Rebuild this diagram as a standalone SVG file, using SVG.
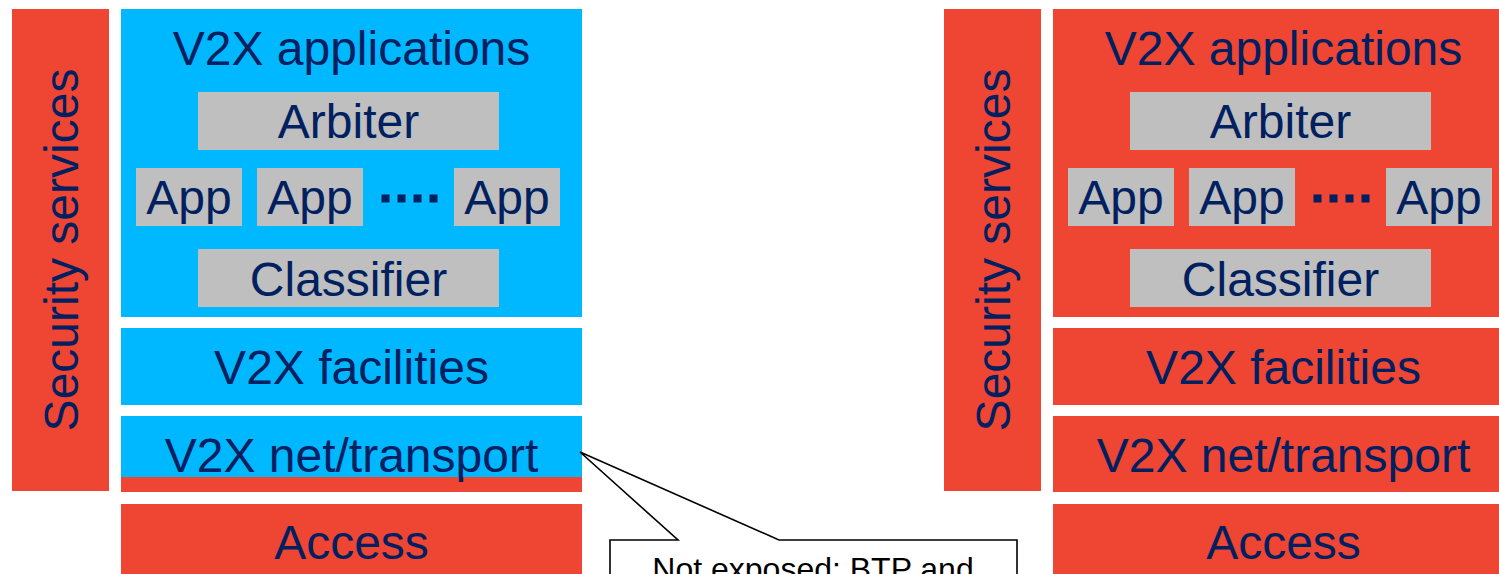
<svg xmlns="http://www.w3.org/2000/svg" width="1499" height="574" viewBox="0 0 1499 574">
<defs>
<style>
.red{fill:#EF4533;}
.blue{fill:#00B8FF;}
.grey{fill:#BFBFBF;}
.t{font-family:"Liberation Sans",Arial,sans-serif;font-size:48px;fill:#002060;text-anchor:middle;}
.dot{fill:#002060;}
.callout{fill:#FFFFFF;stroke:#000000;stroke-width:1.6;stroke-linejoin:miter;}
.ct{font-family:"Liberation Sans",Arial,sans-serif;font-size:32px;fill:#000000;text-anchor:middle;}
</style>
</defs>
<rect width="1499" height="574" fill="#FFFFFF"/>

<!-- Left stack -->
<g id="left-security">
<rect class="red" x="12" y="9" width="97" height="482"/>
<text class="t" transform="translate(77.5,250) rotate(-90)" x="0" y="0">Security services</text>
</g>
<g id="left-applications">
<rect class="blue" x="121" y="9" width="461" height="308"/>
<text class="t" x="351.5" y="65">V2X applications</text>
</g>
<g id="left-arbiter">
<rect class="grey" x="198" y="92" width="301" height="58"/>
<text class="t" x="348.5" y="138">Arbiter</text>
</g>
<g id="left-app1">
<rect class="grey" x="136" y="168" width="106" height="58"/>
<text class="t" x="189" y="214">App</text>
</g>
<g id="left-app2">
<rect class="grey" x="257" y="168" width="106" height="58"/>
<text class="t" x="310" y="214">App</text>
</g>
<g id="left-dots">
<rect class="dot" x="381.5" y="194.5" width="8" height="8"/>
<rect class="dot" x="397.5" y="194.5" width="8" height="8"/>
<rect class="dot" x="413.5" y="194.5" width="8" height="8"/>
<rect class="dot" x="429.5" y="194.5" width="8" height="8"/>
</g>
<g id="left-app3">
<rect class="grey" x="454" y="168" width="106" height="58"/>
<text class="t" x="507" y="214">App</text>
</g>
<g id="left-classifier">
<rect class="grey" x="198" y="249" width="301" height="58"/>
<text class="t" x="348.5" y="296">Classifier</text>
</g>
<g id="left-facilities">
<rect class="blue" x="121" y="328" width="461" height="77"/>
<text class="t" x="351.5" y="384">V2X facilities</text>
</g>
<g id="left-net">
<rect class="blue" x="121" y="416" width="461" height="61"/>
<rect class="red" x="121" y="477" width="461" height="15"/>
<text class="t" x="351.5" y="472">V2X net/transport</text>
</g>
<g id="left-access">
<rect class="red" x="121" y="504" width="461" height="80"/>
<text class="t" x="351.5" y="559">Access</text>
</g>

<!-- Right stack -->
<g id="right-security">
<rect class="red" x="944" y="9" width="97" height="482"/>
<text class="t" transform="translate(1009.5,250) rotate(-90)" x="0" y="0">Security services</text>
</g>
<g id="right-applications">
<rect class="red" x="1053" y="9" width="461" height="308"/>
<text class="t" x="1283.5" y="65">V2X applications</text>
</g>
<g id="right-arbiter">
<rect class="grey" x="1130" y="92" width="301" height="58"/>
<text class="t" x="1280.5" y="138">Arbiter</text>
</g>
<g id="right-app1">
<rect class="grey" x="1068" y="168" width="106" height="58"/>
<text class="t" x="1121" y="214">App</text>
</g>
<g id="right-app2">
<rect class="grey" x="1189" y="168" width="106" height="58"/>
<text class="t" x="1242" y="214">App</text>
</g>
<g id="right-dots">
<rect class="dot" x="1313.5" y="194.5" width="8" height="8"/>
<rect class="dot" x="1329.5" y="194.5" width="8" height="8"/>
<rect class="dot" x="1345.5" y="194.5" width="8" height="8"/>
<rect class="dot" x="1361.5" y="194.5" width="8" height="8"/>
</g>
<g id="right-app3">
<rect class="grey" x="1386" y="168" width="106" height="58"/>
<text class="t" x="1439" y="214">App</text>
</g>
<g id="right-classifier">
<rect class="grey" x="1130" y="249" width="301" height="58"/>
<text class="t" x="1280.5" y="296">Classifier</text>
</g>
<g id="right-facilities">
<rect class="red" x="1053" y="328" width="461" height="77"/>
<text class="t" x="1283.5" y="384">V2X facilities</text>
</g>
<g id="right-net">
<rect class="red" x="1053" y="416" width="461" height="76"/>
<text class="t" x="1283.5" y="472">V2X net/transport</text>
</g>
<g id="right-access">
<rect class="red" x="1053" y="504" width="461" height="80"/>
<text class="t" x="1283.5" y="559">Access</text>
</g>

<!-- Callout -->
<g id="callout">
<path class="callout" d="M610,540 L678,540 L580,452 L779,540 L1017,540 L1017,600 L610,600 Z"/>
<text class="ct" x="813" y="580">Not exposed: BTP and</text>
</g>

<g id="connectors"></g>
</svg>
